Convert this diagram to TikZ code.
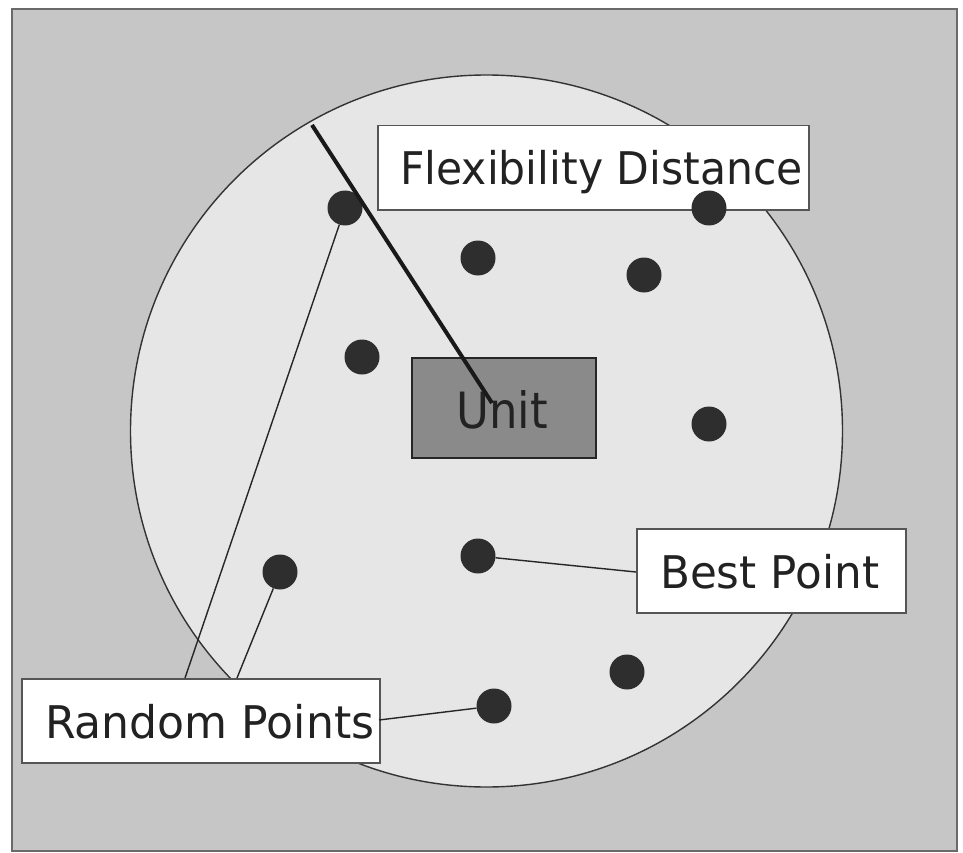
\documentclass[tikz,border=0pt]{standalone}
\usepackage{fontspec}
\setmainfont{DejaVu Sans}
\usepackage{graphicx}
\definecolor{bggray}{HTML}{C6C6C6}
\definecolor{circfill}{HTML}{E6E6E6}
\definecolor{dotcol}{HTML}{2E2E2E}
\definecolor{unitfill}{HTML}{8A8A8A}
\definecolor{framecol}{HTML}{6A6A6A}
\definecolor{boxline}{HTML}{555555}
\definecolor{txtcol}{HTML}{222222}
\tikzset{
  labelbox/.style={draw=boxline, line width=1.5pt, fill=white, anchor=north west, inner sep=0pt},
  lbltext/.style={anchor=base west, inner sep=0pt, text=txtcol, font=\fontsize{45}{50}\selectfont},
  rpoint/.style={circle, fill=dotcol, minimum size=35pt, inner sep=0pt},
  pointer/.style={draw=black!85, line width=1.4pt},
}
\begin{document}
\begin{tikzpicture}[x=1pt, y=-1pt]
\useasboundingbox (0,0) rectangle (963,853);
\fill[white] (0,0) rectangle (963,853);
% background frame
\draw[fill=bggray, draw=framecol, line width=2.5pt] (12,9) rectangle (957,851);
% flexibility circle
\draw[fill=circfill, draw=black!80, line width=1.4pt] (486.5,431) circle[radius=356];
% flexibility distance label
\node[labelbox, minimum width=431pt, minimum height=84pt] (flexbox) at (377,125) {};
\node[lbltext] (flextext) at (400,185) {\scalebox{0.945}[1]{Flexibility Distance}};
% random points
\node[rpoint] (d1) at (345,208) {};
\node[rpoint] (d2) at (478,258) {};
\node[rpoint] (d3) at (644,275) {};
\node[rpoint] (d4) at (709,208) {};
\node[rpoint] (d5) at (362,357) {};
\node[rpoint] (d6) at (709,424) {};
\node[rpoint] (d7) at (478,556) {};
\node[rpoint] (d8) at (280,572) {};
\node[rpoint] (d9) at (627,672) {};
\node[rpoint] (d10) at (494,706) {};
% unit
\node[draw=black!85, line width=2pt, fill=unitfill, anchor=north west, minimum width=184pt, minimum height=100pt, inner sep=0pt] (unitbox) at (411,357) {};
\node[anchor=base west, inner sep=0pt, text=txtcol, font=\fontsize{50}{55}\selectfont] (unittext) at (456,428) {\scalebox{0.9}[1]{Unit}};
% flexibility distance radius line
\coordinate (rtop) at (312,125);
\coordinate (rend) at (492,403);
\draw[line width=4pt, black!90] (rtop) -- (rend);
% best point label
\node[labelbox, minimum width=269pt, minimum height=84pt] (bestbox) at (636,528) {};
\node[lbltext] (besttext) at (660,588) {\scalebox{0.97}[1]{Best Point}};
\coordinate (bestin) at (636,572);
\draw[pointer] (bestin) -- (d7);
% random points label
\node[labelbox, minimum width=358pt, minimum height=84pt] (randbox) at (21,678) {};
\node[lbltext] (randtext) at (45,738) {\scalebox{0.98}[1]{Random Points}};
\coordinate (r1) at (185,678);
\coordinate (r2) at (237,678);
\coordinate (r3) at (379,720);
\draw[pointer] (r1) -- (d1);
\draw[pointer] (r2) -- (d8);
\draw[pointer] (r3) -- (d10);
\end{tikzpicture}
\end{document}
